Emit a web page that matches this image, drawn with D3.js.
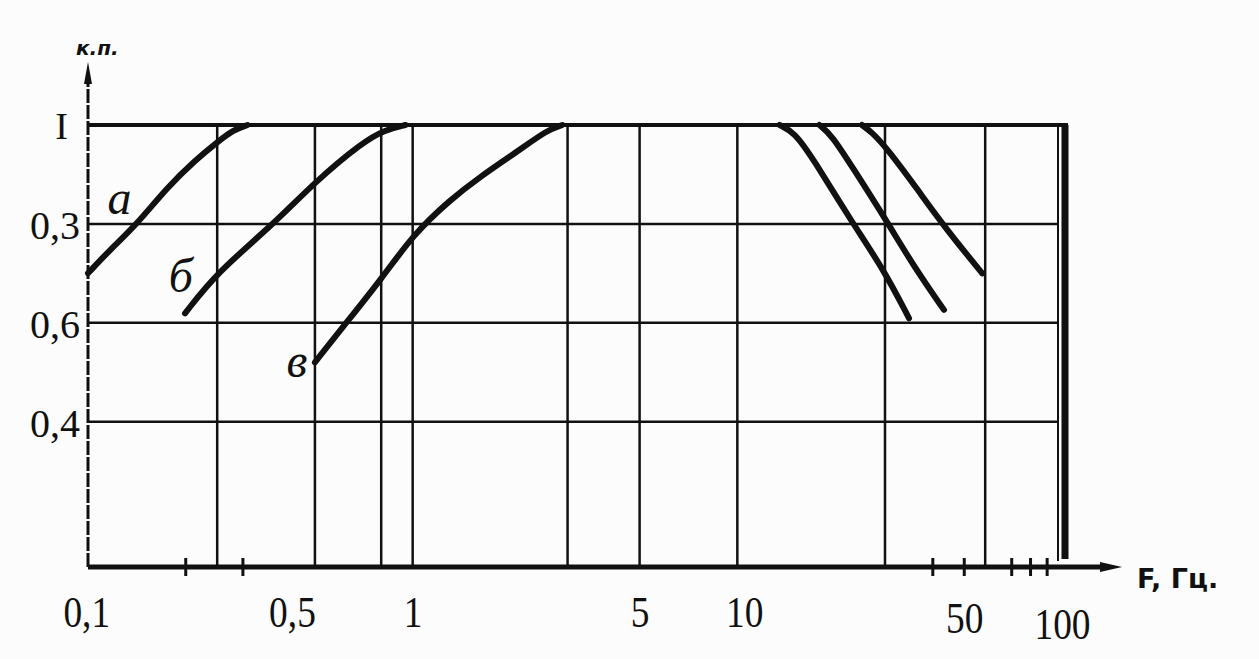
<!DOCTYPE html>
<html>
<head>
<meta charset="utf-8">
<script src="https://cdn.jsdelivr.net/npm/d3@7/dist/d3.min.js"></script>
<style>
body { margin: 0; background: #fcfcfc; }
svg { display: block; }
</style>
</head>
<body>
<div id="chart"></div>
<script>
// grid and tick values (F, Hz / k.p.)
const xGrid = [0.25, 0.5, 0.8, 1, 3, 5, 10, 28.5, 58];
const xMinor = [0.2, 0.3, 40, 50, 70, 80, 90];
const xTickVals = [0.1, 0.5, 1, 5, 10, 50, 100];
const xTickText = ["0,1", "0,5", "1", "5", "10", "50", "100"];
const yGrid = [1, 0.8, 0.6, 0.4];
const yTickText = ["I", "0,3", "0,6", "0,4"];

// curves: [F, k.p.]
const curveA = [[0.1, 0.70], [0.117, 0.748], [0.14, 0.796], [0.176, 0.875], [0.215, 0.93], [0.25, 0.965], [0.28, 0.99], [0.31, 1.0]];
const curveB = [[0.199, 0.619], [0.25, 0.702], [0.368, 0.796], [0.5, 0.885], [0.7, 0.965], [0.82, 0.99], [0.95, 1.0]];
const curveC = [[0.5, 0.52], [0.609, 0.591], [0.809, 0.692], [1.0, 0.777], [1.3, 0.848], [1.61, 0.895], [2.13, 0.949], [2.6, 0.99], [2.89, 1.0]];
const curveH1 = [[13.5, 1.0], [15, 0.985], [17, 0.935], [22.6, 0.802], [28.1, 0.71], [33.8, 0.609]];
const curveH2 = [[17.9, 1.0], [19.5, 0.98], [22.6, 0.915], [28.7, 0.808], [35.5, 0.707], [43.3, 0.626]];
const curveH3 = [[24.2, 1.0], [26, 0.985], [28.7, 0.955], [35.5, 0.874], [43.9, 0.79], [56.8, 0.70]];
const curveNames = [["а", 0.125, 0.82], ["б", 0.193, 0.662], ["в", 0.44, 0.49]];

var width = 1259, height = 659;

var x = d3.scaleLog()
	.domain([0.1, 100])
	.range([88, 1062]);

var y = d3.scaleLinear()
	.domain([0.11, 1])
	.range([565, 125]);

const svg = d3.select("#chart").append("svg")
	.attr("width", width)
	.attr("height", height);

// grid
svg.append("g")
	.attr("stroke", "#111")
	.attr("stroke-width", 2.5)
	.selectAll("line")
	.data(xGrid)
	.enter().append("line")
	.attr("x1", d => x(d))
	.attr("x2", d => x(d))
	.attr("y1", y(1))
	.attr("y2", y(0.11));

svg.append("g")
	.attr("stroke", "#111")
	.attr("stroke-width", 2.5)
	.selectAll("line")
	.data(yGrid.slice(1))
	.enter().append("line")
	.attr("x1", x(0.1))
	.attr("x2", x(100) - 4)
	.attr("y1", d => y(d))
	.attr("y2", d => y(d));

// frame: top and right
svg.append("line")
	.attr("x1", x(0.1)).attr("x2", x(100) + 6)
	.attr("y1", y(1)).attr("y2", y(1))
	.attr("stroke", "#111").attr("stroke-width", 4);

svg.append("line")
	.attr("x1", x(100) - 4).attr("x2", x(100) - 4)
	.attr("y1", y(1)).attr("y2", y(0.11) - 4)
	.attr("stroke", "#111").attr("stroke-width", 2);

svg.append("line")
	.attr("x1", x(100) + 3).attr("x2", x(100) + 3)
	.attr("y1", y(1)).attr("y2", y(0.11) - 6)
	.attr("stroke", "#111").attr("stroke-width", 7);

// Add the x-axis.
svg.append("line")
	.attr("x1", x(0.1)).attr("x2", 1108)
	.attr("y1", y(0.11) + 2).attr("y2", y(0.11) + 2)
	.attr("stroke", "#111").attr("stroke-width", 5);
svg.append("path")
	.attr("d", `M1122,${y(0.11) + 2} L1100,${y(0.11) - 3} L1100,${y(0.11) + 7} Z`)
	.attr("fill", "#111");

svg.append("g")
	.attr("stroke", "#111")
	.attr("stroke-width", 3)
	.selectAll("line")
	.data(xMinor)
	.enter().append("line")
	.attr("x1", d => x(d)).attr("x2", d => x(d))
	.attr("y1", y(0.11) - 7).attr("y2", y(0.11) + 11);

const xAxis = g => g
	.attr("transform", `translate(0,${y(0.11) + 2})`)
	.call(d3.axisBottom(x).tickValues(xTickVals).tickSize(0).tickPadding(0)
		.tickFormat((d, i) => xTickText[i]))
	.call(g => g.select(".domain").remove())
	.call(g => g.selectAll(".tick text")
		.attr("fill", "#111")
		.attr("font-family", "Liberation Serif, serif")
		.attr("font-size", 44)
		.attr("dy", 0)
		.attr("y", d => d === 100 ? 72 : (d === 50 ? 66 : 60))
		.attr("x", d => d === 0.5 ? -27 : (d === 10 ? 8 : (d === 0.1 ? -2 : 0)))
		.attr("transform", "scale(0.85,1)"));

svg.append("g").call(xAxis);

// Add the y-axis.
svg.append("line")
	.attr("x1", x(0.1)).attr("x2", x(0.1))
	.attr("y1", y(0.11) + 2).attr("y2", 80)
	.attr("stroke", "#111").attr("stroke-width", 3)
	.attr("stroke-dasharray", "14,2");
svg.append("path")
	.attr("d", `M${x(0.1)},62 L${x(0.1) - 4},84 L${x(0.1) + 4},84 Z`)
	.attr("fill", "#111");

const yAxis = g => g
	.attr("transform", `translate(${x(0.1)},0)`)
	.call(d3.axisLeft(y).tickValues(yGrid).tickSize(0).tickPadding(8)
		.tickFormat((d, i) => yTickText[i]))
	.call(g => g.select(".domain").remove())
	.call(g => g.selectAll(".tick text")
		.attr("fill", "#111")
		.attr("font-family", "Liberation Serif, serif")
		.attr("font-size", d => d === 1 ? 38 : 40)
		.attr("dy", "0.36em")
		.attr("x", d => d === 1 ? -20 : -8));

svg.append("g").call(yAxis);

// axis titles
svg.append("text")
	.attr("x", 76).attr("y", 55)
	.attr("font-family", "DejaVu Sans, sans-serif")
	.attr("font-weight", "bold")
	.attr("font-style", "italic")
	.attr("font-size", 20)
	.attr("fill", "#111")
	.text("к.п.");

svg.append("text")
	.attr("x", 1137).attr("y", 588)
	.attr("font-family", "DejaVu Sans, sans-serif")
	.attr("font-weight", "bold")
	.attr("font-size", 27)
	.attr("fill", "#111")
	.text("F, Гц.");

// curves
const line = d3.line()
	.x(d => x(d[0]))
	.y(d => y(d[1]))
	.curve(d3.curveBasis);

svg.append("g")
	.attr("fill", "none")
	.attr("stroke", "#111")
	.attr("stroke-width", 6)
	.attr("stroke-linecap", "round")
	.selectAll("path")
	.data([curveA, curveB, curveC, curveH1, curveH2, curveH3])
	.enter().append("path")
	.attr("d", line);

// curve names
svg.append("g")
	.selectAll("text")
	.data(curveNames)
	.enter().append("text")
	.attr("x", d => x(d[1]))
	.attr("y", d => y(d[2]))
	.attr("text-anchor", "middle")
	.attr("font-family", "Liberation Serif, serif")
	.attr("font-style", "italic")
	.attr("font-size", 48)
	.attr("fill", "#111")
	.text(d => d[0]);
</script>
</body>
</html>
